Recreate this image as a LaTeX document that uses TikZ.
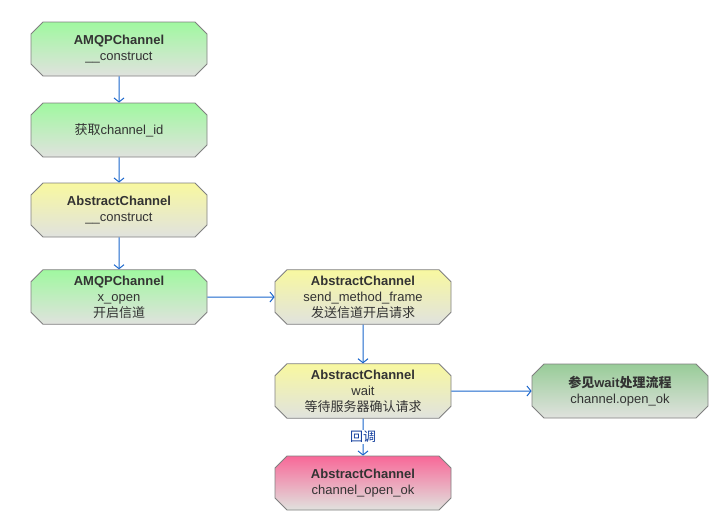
\documentclass[tikz,border=0pt]{standalone}
\usepackage{fontspec}
\setmainfont{Liberation Sans}
\newfontfamily\cjk{Noto Sans CJK SC}
\usetikzlibrary{shapes.misc,arrows.meta}
\definecolor{gtop}{HTML}{A0F8A0}
\definecolor{ytop}{HTML}{F8F8A0}
\definecolor{ptop}{HTML}{F86898}
\definecolor{dgtop}{HTML}{98CC98}
\definecolor{bbot}{HTML}{E0E2DE}
\definecolor{edge}{HTML}{808080}
\definecolor{txt}{HTML}{333333}
\definecolor{link}{HTML}{1A66CC}
\definecolor{lbl}{HTML}{103C9C}
\tikzset{
  box/.style={chamfered rectangle, chamfered rectangle xsep=6pt, chamfered rectangle ysep=6pt, draw=edge, line width=0.8pt,
    minimum width=176pt, minimum height=54pt, inner sep=0pt, align=center, text=txt,
    font=\fontsize{13}{16}\selectfont, bottom color=bbot},
  gbox/.style={box, top color=gtop},
  ybox/.style={box, top color=ytop},
  pbox/.style={box, top color=ptop},
  dbox/.style={box, top color=dgtop},
  conn/.style={draw=link, line width=1pt, -{Straight Barb[length=4pt,width=10pt,line width=1pt]}},
}
\begin{document}
\begin{tikzpicture}[x=1pt,y=-1pt]
\useasboundingbox[fill=white] (0,0) rectangle (727,531);
\node[gbox] (a) at (119,49) {\textbf{AMQPChannel}\\\_\_construct};
\node[gbox] (b) at (119,130) {{\cjk 获取}channel\_id};
\node[ybox] (c) at (119,210) {\textbf{AbstractChannel}\\\_\_construct};
\node[gbox] (d) at (119,297) {\textbf{AMQPChannel}\\x\_open\\{\cjk 开启信道}};
\node[ybox] (e) at (363,297) {\textbf{AbstractChannel}\\send\_method\_frame\\{\cjk 发送信道开启请求}};
\node[ybox] (f) at (363,391) {\textbf{AbstractChannel}\\wait\\{\cjk 等待服务器确认请求}};
\node[dbox] (g) at (620,391) {{\cjk\bfseries 参见}\textbf{wait}{\cjk\bfseries 处理流程}\\channel.open\_ok};
\node[pbox] (h) at (363,483) {\textbf{AbstractChannel}\\channel\_open\_ok};
\draw[conn] (a) -- (b);
\draw[conn] (b) -- (c);
\draw[conn] (c) -- (d);
\draw[conn] (d) -- (e);
\draw[conn] (e) -- (f);
\draw[conn] (f) -- (g);
\draw[conn] (f) -- node[fill=white, text=lbl, inner sep=1.5pt, font=\cjk\fontsize{13}{16}\selectfont] (cb) {回调} (h);
\end{tikzpicture}
\end{document}
